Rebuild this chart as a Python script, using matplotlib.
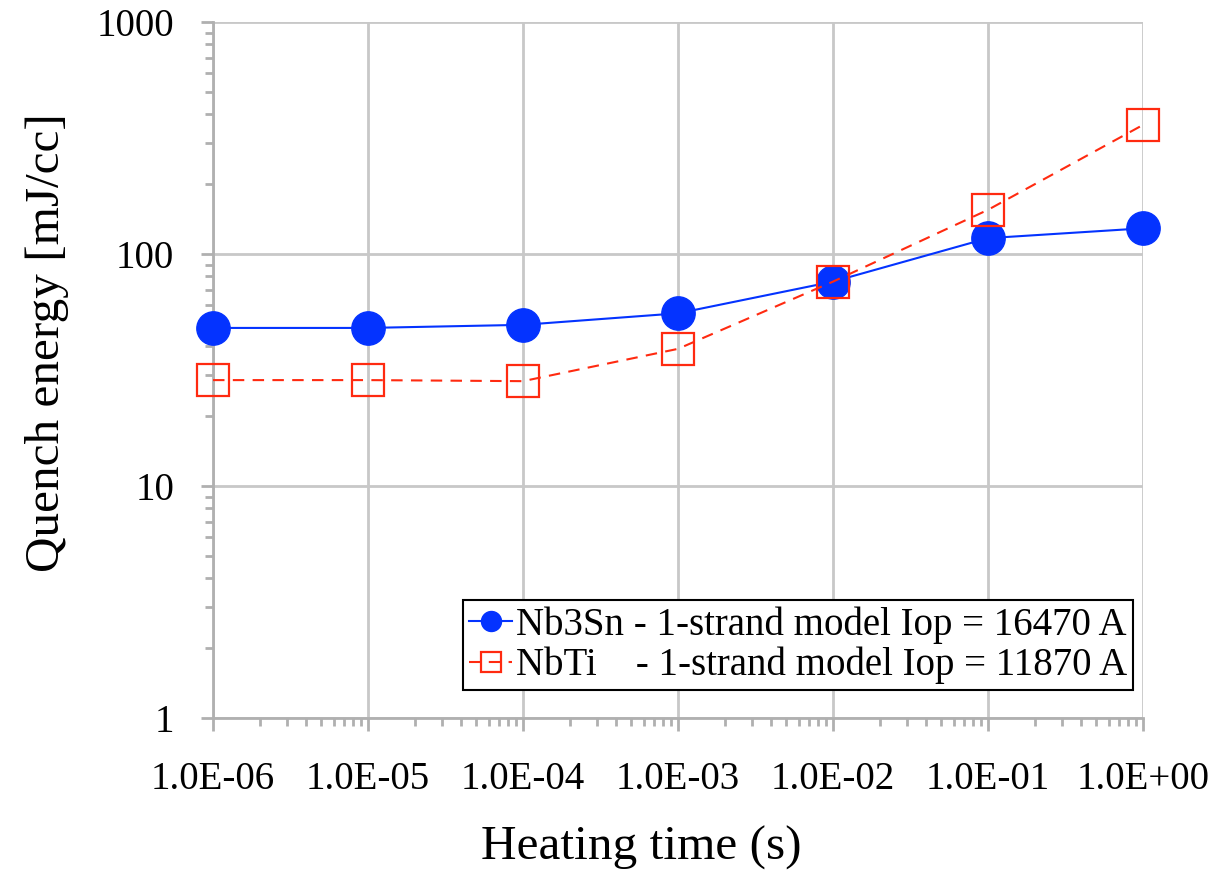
import matplotlib
matplotlib.use("Agg")
import matplotlib.pyplot as plt
from matplotlib.ticker import LogLocator, FixedLocator, NullFormatter

plt.rcParams['font.family'] = ['Liberation Serif', 'DejaVu Serif']

heating_time = [1e-6, 1e-5, 1e-4, 1e-3, 1e-2, 1e-1, 1e0]
x_labels = ["1.0E-06", "1.0E-05", "1.0E-04", "1.0E-03", "1.0E-02", "1.0E-01", "1.0E+00"]
nb3sn_energy = [48, 48, 49.5, 55.5, 76, 117, 129]
nbti_energy = [28.6, 28.6, 28.3, 39, 76, 155, 360]
y_ticks = [1, 10, 100, 1000]

blue = "#0433FF"
red = "#FF2A10"
grid_gray = "#C8C8C8"

fig = plt.figure(figsize=(12.18, 8.73), dpi=100)
ax = fig.add_axes([0.1749, 0.1776, 0.7635, 0.7972])

ax.set_xscale("log")
ax.set_yscale("log")
ax.set_xlim(1e-6, 1e0)
ax.set_ylim(1, 1000)

ax.plot(heating_time, nb3sn_energy, color=blue, lw=1.5, marker="o", ms=24,
        mfc=blue, mec=blue, label="Nb3Sn - 1-strand model Iop = 16470 A",
        zorder=3, clip_on=False)
ax.plot(heating_time, nbti_energy, color=red, lw=1.5, ls=(0, (5.5, 4)), marker="s", ms=23,
        mfc="none", mec=red, mew=1.6, label="NbTi    - 1-strand model Iop = 11870 A",
        zorder=4, clip_on=False)

ax.xaxis.set_major_locator(FixedLocator(heating_time))
ax.set_xticklabels(x_labels)
ax.xaxis.set_minor_locator(LogLocator(base=10, subs=range(2, 10), numticks=100))
ax.xaxis.set_minor_formatter(NullFormatter())
ax.yaxis.set_major_locator(FixedLocator(y_ticks))
ax.set_yticklabels([str(v) for v in y_ticks])
ax.yaxis.set_minor_locator(LogLocator(base=10, subs=range(2, 10), numticks=100))
ax.yaxis.set_minor_formatter(NullFormatter())

ax.grid(True, which="major", color=grid_gray, lw=2)
ax.set_axisbelow(True)
for side in ["top", "right"]:
    ax.spines[side].set_visible(False)
for side in ["left", "bottom"]:
    ax.spines[side].set_color("#B0B0B0")
    ax.spines[side].set_linewidth(2)

ax.tick_params(which="major", direction="out", length=9, width=2, color="#B0B0B0",
               labelsize=28, pad=22)
ax.tick_params(axis="y", which="major", pad=19)
ax.tick_params(which="minor", direction="out", length=6, width=2, color="#B0B0B0")

ax.set_xlabel("Heating time (s)", fontsize=35.5)
ax.xaxis.set_label_coords(0.46, -0.155)
ax.set_ylabel("Quench energy [mJ/cc]", fontsize=35.5)
ax.yaxis.set_label_coords(-0.155, 0.54)

leg = ax.legend(loc="lower right", bbox_to_anchor=(0.989, 0.04), fontsize=28,
                frameon=True, fancybox=False, edgecolor="black", framealpha=1,
                markerscale=0.6, handlelength=1.1, handletextpad=0.1,
                borderpad=0.15, labelspacing=0.08, borderaxespad=0)
leg.get_frame().set_linewidth(1.5)

fig.savefig("out.png", dpi=100)
